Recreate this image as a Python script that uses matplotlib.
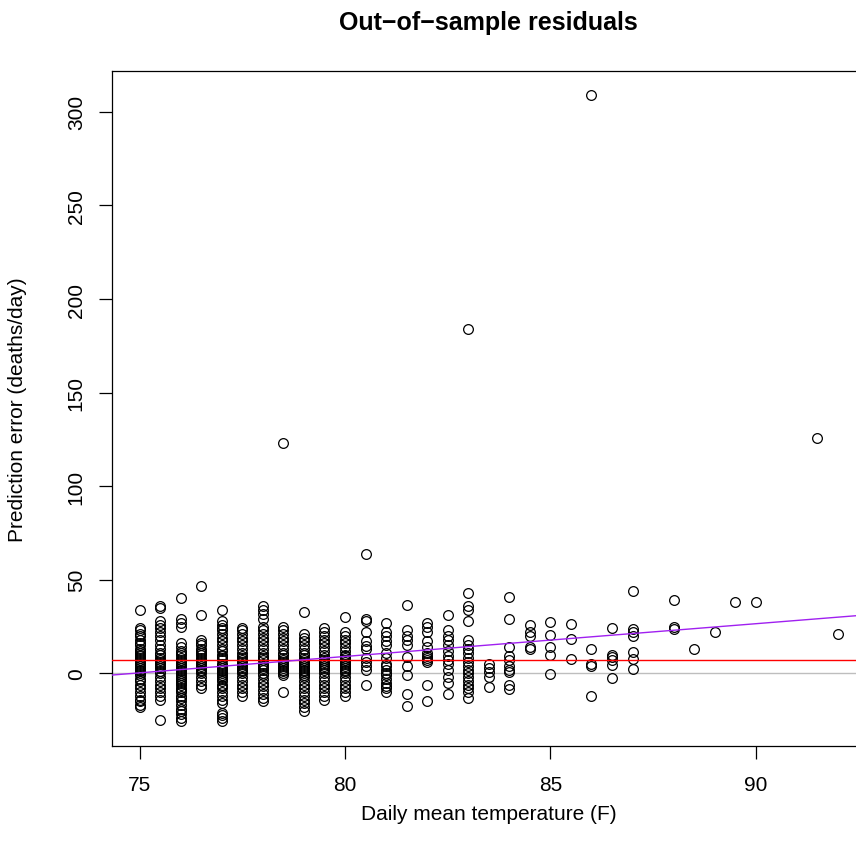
import matplotlib
matplotlib.use("Agg")
import matplotlib.pyplot as plt
import numpy as np

plt.rcParams['font.family'] = ['Liberation Sans', 'DejaVu Sans']

# ---- data: residuals by daily mean temperature (F) ----
r75_0 = [34, 24, 23, 21, 20, 18, 16, 15, 13, 12, 11, 10, 9, 8, 7, 6, 5, 4, 3, 2, 1, 0, -1, -3, -4, -6, -8, -10, -12, -14, -15, -17, -18]
r75_5 = [36, 35, 28, 26, 24, 22, 20, 18, 15, 13, 11, 10, 8, 7, 6, 5, 4, 3, 1, 0, -2, -4, -6, -8, -10, -12, -14, -25]
r76_0 = [40, 29, 27, 25, 16, 14, 12, 11, 10, 8, 7, 6, 5, 4, 3, 2, 1, 0, -1, -2, -3, -4, -5, -6, -8, -9, -10, -12, -13, -15, -17, -19, -20, -22, -24, -25.5]
r76_5 = [46.5, 31, 18, 16, 15, 13, 12, 11, 10, 8, 7, 6, 5, 4, 3, 2, 1, 0, -2, -4, -6, -8]
r77_0 = [34, 28, 26, 24, 23, 21, 19, 17, 15, 13, 12, 10, 9, 8, 7, 5, 4, 3, 2, 1, 0, -1, -2, -3, -4, -6, -7, -8, -10, -12, -14, -16, -21, -22.5, -24, -25.5]
r77_5 = [24, 23, 21, 19, 17, 15, 13, 11, 9, 8, 7, 6, 5, 4, 3, 2, 1, 0, -2, -4, -6, -8, -10, -12]
r78_0 = [36, 34, 31.5, 29, 25, 23, 21, 19, 17, 15, 13, 11, 9, 8, 7, 5, 4, 3, 2, 0, -1, -3, -5, -7, -9, -11, -13, -15]
r78_5 = [123, 25, 23, 21, 19, 17, 15, 13, 11, 10, 8, 7, 6, 5, 4, 3, 2, 1, 0, -1, -10]
r79_0 = [32.5, 21, 19, 17, 15, 13, 11, 10, 8, 7, 6, 5, 4, 3, 2, 1, 0, -1, -2, -4, -6, -8, -10, -12, -14, -16, -18, -20]
r79_5 = [24, 22, 20, 18, 16, 14, 12, 10, 8, 7, 6, 5, 4, 3, 2, 0, -2, -4, -6, -8, -10, -12, -14]
r80_0 = [30, 22, 20, 18, 16, 14, 12, 10, 9, 8, 7, 6, 5, 4, 3, 2, 1, 0, -2, -4, -6, -8, -10, -12]
r80_5 = [64, 29, 28, 22, 17, 14.5, 13, 8, 6, 4, 2, -6.5]
r81_0 = [27, 22, 20, 17, 15, 11, 8, 5, 4, 2, 0, -1, -3, -5, -7, -8, -10]
r81_5 = [36.5, 23, 20, 18, 15, 8.5, 4, -1, -11, -17.5]
r82_0 = [27, 25, 22, 17, 14, 11, 9, 8, 6, 7, -6, -15]
r82_5 = [31, 23, 20, 18, 15, 12, 9, 7, 5, 2, -2, -5, -11]
r83_0 = [184, 43, 36, 34, 28, 18, 15, 13, 11, 8, 6, 4, 2, 0, -2, -4, -6, -8, -10, -13]
r83_5 = [5, 3, 0.5, -2, -7.5]
r84_0 = [41, 29, 14, 9, 7, 4, 2, 0.5, -6.5, -8.5]
r84_5 = [26, 22, 20, 14, 13]
r85_0 = [27.5, 20.5, 14, 10, -0.5]
r85_5 = [26.5, 18.5, 7.5]
r86_0 = [309, 13, 5, 4, -12]
r86_5 = [24, 10, 8.5, 7, 4.5, -2.5]
r87_0 = [44, 23.5, 22, 20, 11.5, 7.5, 2.5]
r88_0 = [39, 25, 23.5]
r88_5 = [13]
r89_0 = [22]
r89_5 = [38]
r90_0 = [38]
r91_5 = [126]
r92_0 = [21]

temps = [75.0, 75.5, 76.0, 76.5, 77.0, 77.5, 78.0, 78.5, 79.0, 79.5, 80.0, 80.5,
         81.0, 81.5, 82.0, 82.5, 83.0, 83.5, 84.0, 84.5, 85.0, 85.5, 86.0, 86.5,
         87.0, 88.0, 88.5, 89.0, 89.5, 90.0, 91.5, 92.0]
groups = [r75_0, r75_5, r76_0, r76_5, r77_0, r77_5, r78_0, r78_5, r79_0, r79_5,
          r80_0, r80_5, r81_0, r81_5, r82_0, r82_5, r83_0, r83_5, r84_0, r84_5,
          r85_0, r85_5, r86_0, r86_5, r87_0, r88_0, r88_5, r89_0, r89_5, r90_0,
          r91_5, r92_0]

mean_residual = 7.1          # red horizontal line
fit_intercept = -131.0       # purple regression line
fit_slope = 1.75

xticks = [75, 80, 85, 90]
yticks = [0, 50, 100, 150, 200, 250, 300]

x = np.concatenate([[t] * len(g) for t, g in zip(temps, groups)])
y = np.concatenate([np.asarray(g, float) for g in groups])

W, H = 856, 854
fig = plt.figure(figsize=(W / 100, H / 100), dpi=100)
left, right, bottom, top = 111.7, 865.8, 747.3, 71.7
ax = fig.add_axes([left / W, 1 - bottom / H, (right - left) / W, (bottom - top) / H])

ax.plot(x, y, linestyle='none', marker='o', markersize=7.0,
        markerfacecolor='none', markeredgecolor='black', markeredgewidth=0.9)

ax.axhline(0, color='#bebebe', linewidth=1.0, zorder=1)
ax.axhline(mean_residual, color='#ff0000', linewidth=1.0, zorder=3)
xl = np.array([74.0, 93.0])
ax.plot(xl, fit_intercept + fit_slope * xl, color='#a020f0', linewidth=1.0, zorder=3)

ax.set_xlim(74.32, 92.68)
ax.set_ylim(-39.0, 322.0)
ax.set_xticks(xticks)
ax.set_yticks(yticks)
ax.set_xticklabels([str(v) for v in xticks])
ax.set_yticklabels([str(v) for v in yticks], rotation=90, va='center')
ax.tick_params(axis='both', direction='out', length=9.6, width=0.9, labelsize=15, colors='black')
ax.tick_params(axis='x', pad=11)
ax.tick_params(axis='y', pad=9)
for s in ax.spines.values():
    s.set_linewidth(0.9)

cx = (left + right) / 2 / W
fig.text(cx, 1 - 30 / H, 'Out\u2212of\u2212sample residuals', ha='center', va='baseline',
         fontsize=18, fontweight='bold')
fig.text(cx, 1 - 815 / H, 'Daily mean temperature (F)', ha='center', va='center', fontsize=15)
fig.text(18 / W, 1 - (top + bottom) / 2 / H, 'Prediction error (deaths/day)', ha='center',
         va='center', rotation=90, fontsize=15)

fig.savefig('out.png', dpi=100)
